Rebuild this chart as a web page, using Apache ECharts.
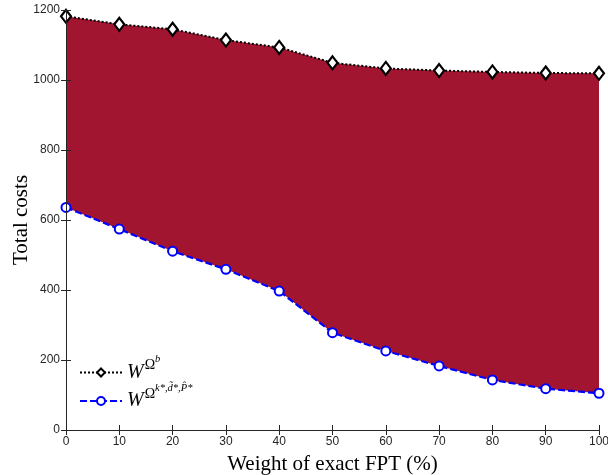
<!DOCTYPE html>
<html>
<head>
<meta charset="utf-8">
<script src="https://cdn.jsdelivr.net/npm/echarts@6/dist/echarts.min.js"></script>
<style>
  html, body { margin: 0; padding: 0; background: #ffffff; }
  #chart { width: 608px; height: 475px; }
</style>
</head>
<body>
<div id="chart"></div>
<script>
// Weight of exact FPT (%)
const weights = [0, 10, 20, 30, 40, 50, 60, 70, 80, 90, 100];
// Total costs, upper bound W^{Ω^b}
const upperCosts = [1182, 1159, 1145, 1114, 1093, 1049, 1033, 1027, 1023, 1020, 1019];
// Total costs, lower bound W^{Ω^{k*,d̃*,P̂*}}
const lowerCosts = [636, 574, 511, 459, 397, 278, 226, 183, 143, 118, 105];
// Tick values
const xTicks = [0, 10, 20, 30, 40, 50, 60, 70, 80, 90, 100];
const yTicks = [0, 200, 400, 600, 800, 1000, 1200];

const fillColor = '#A11530';
const axisColor = '#262626';
const serif = '"Liberation Serif", "DejaVu Serif", serif';
const sans = '"Liberation Sans", Arial, sans-serif';

const pairs = (ys) => weights.map((w, i) => [w, ys[i]]);

const chart = echarts.init(document.getElementById('chart'), null, { renderer: 'canvas' });

const axisCommon = {
  axisLine: { show: true, lineStyle: { color: axisColor, width: 1 } },
  axisTick: { show: true, inside: true, length: 5, lineStyle: { color: axisColor } },
  splitLine: { show: false }
};

// Shaded band between the two cost curves, built from the data through the axes
function renderBand(params, api) {
  if (params.dataIndex !== 0) return null;
  const top = weights.map((w, i) => api.coord([w, upperCosts[i]]));
  const bottom = weights.map((w, i) => api.coord([w, lowerCosts[i]])).reverse();
  return {
    type: 'polygon',
    shape: { points: top.concat(bottom) },
    style: { fill: fillColor, stroke: null }
  };
}

chart.setOption({
  animation: false,
  backgroundColor: '#ffffff',
  grid: { left: 66, right: 9, top: 10, bottom: 45, containLabel: false, outerBoundsMode: 'none' },
  xAxis: [
    Object.assign({
      type: 'value', min: 0, max: 100, interval: 10, position: 'bottom',
      name: 'Weight of exact FPT (%)', nameLocation: 'middle', nameGap: 24,
      nameTextStyle: { fontFamily: serif, fontSize: 21, color: '#000' },
      axisLabel: { fontFamily: sans, fontSize: 12, color: axisColor, margin: 6,
        formatter: (v) => xTicks.includes(v) ? String(v) : '' },
      z: 5
    }, axisCommon),
    Object.assign({
      type: 'value', min: 0, max: 100, interval: 10, position: 'top',
      axisLabel: { show: false }, z: 5
    }, axisCommon)
  ],
  yAxis: [
    Object.assign({
      type: 'value', min: 0, max: 1200, interval: 200, position: 'left',
      name: 'Total costs', nameLocation: 'middle', nameGap: 34, nameRotate: 90,
      nameMoveOverlap: false,
      nameTextStyle: { fontFamily: serif, fontSize: 21, color: '#000' },
      axisLabel: { fontFamily: sans, fontSize: 12, color: axisColor, margin: 6,
        formatter: (v) => yTicks.includes(v) ? String(v) : '' },
      z: 5
    }, axisCommon),
    Object.assign({
      type: 'value', min: 0, max: 1200, interval: 200, position: 'right',
      axisLabel: { show: false }, z: 5
    }, axisCommon)
  ],
  legend: {
    left: 74, top: 349, orient: 'vertical', itemGap: 0,
    itemWidth: 42, itemHeight: 10,
    data: ['upper', 'lower'],
    formatter: (name) => name === 'upper'
      ? '{w|W}{o|Ω}{s|b}'
      : '{w|W}{o|Ω}{s|k*,d̃*,P̂*}',
    textStyle: {
      rich: {
        w: { fontFamily: serif, fontStyle: 'italic', fontSize: 20, color: '#000' },
        o: { fontFamily: serif, fontSize: 14, color: '#000', padding: [0, 0, 14, 1] },
        s: { fontFamily: serif, fontStyle: 'italic', fontSize: 10.5, color: '#000', padding: [0, 0, 26, 0] }
      }
    }
  },
  series: [
    {
      name: 'band', type: 'custom', renderItem: renderBand,
      data: pairs(upperCosts), silent: true, z: 1
    },
    {
      name: 'upper', type: 'line', data: pairs(upperCosts),
      symbol: 'diamond', symbolSize: [10, 13],
      lineStyle: { color: '#000', width: 2, type: [2, 2] },
      itemStyle: { color: '#ffffff', borderColor: '#000', borderWidth: 2.2 },
      z: 3
    },
    {
      name: 'lower', type: 'line', data: pairs(lowerCosts),
      symbol: 'circle', symbolSize: 9,
      lineStyle: { color: '#0000FF', width: 2.2, type: [7, 3] },
      itemStyle: { color: '#ffffff', borderColor: '#0000FF', borderWidth: 2 },
      z: 3
    }
  ]
});
</script>
</body>
</html>
